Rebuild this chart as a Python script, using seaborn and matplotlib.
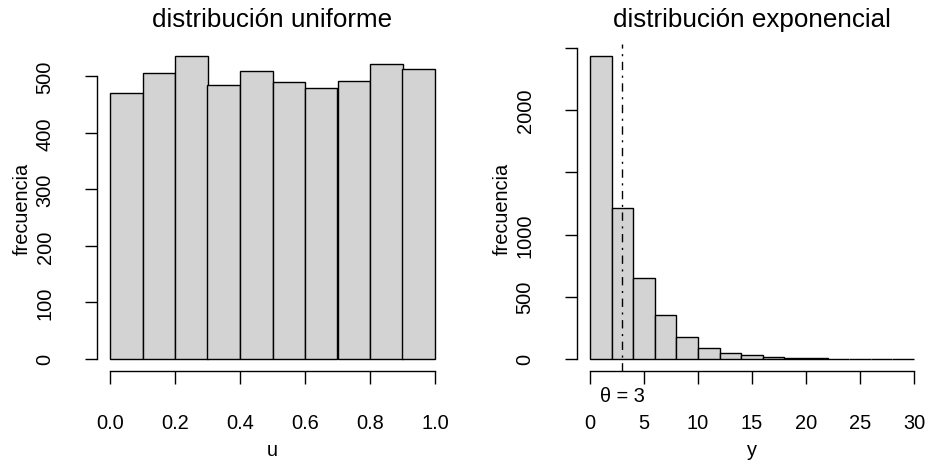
import numpy as np
import pandas as pd
import seaborn as sns
import matplotlib
matplotlib.use("Agg")
import matplotlib.pyplot as plt
import matplotlib.transforms as mtransforms

# values
u_edges = [0.0, 0.1, 0.2, 0.3, 0.4, 0.5, 0.6, 0.7, 0.8, 0.9, 1.0]
u_counts = [471, 506, 535, 485, 509, 489, 479, 492, 521, 513]

y_edges = [0, 2, 4, 6, 8, 10, 12, 14, 16, 18, 20, 22, 24, 26, 28, 30]
y_counts = [2432, 1215, 654, 356, 175, 86, 46, 30, 18, 9, 5, 3, 2, 0, 1]

theta = 3

u_xticks = [0.0, 0.2, 0.4, 0.6, 0.8, 1.0]
u_xlabels = ["0.0", "0.2", "0.4", "0.6", "0.8", "1.0"]
u_yticks = [0, 100, 200, 300, 400, 500]
y_xticks = [0, 5, 10, 15, 20, 25, 30]
y_yticks = [0, 500, 1000, 1500, 2000, 2500]
y_ylabels = ["0", "500", "1000", "", "2000", ""]

sns.set_style("ticks", {"axes.edgecolor": "black", "text.color": "black",
                        "xtick.color": "black", "ytick.color": "black",
                        "axes.labelcolor": "black"})
plt.rcParams["font.family"] = ["Liberation Sans", "DejaVu Sans"]

W, H = 930, 464
fig = plt.figure(figsize=(W / 100, H / 100), dpi=100)
top, bottom = 45.4, 372.0
axh = bottom - top
ax1 = fig.add_axes([97 / W, 1 - bottom / H, 351 / W, axh / H])
ax2 = fig.add_axes([577 / W, 1 - bottom / H, 350 / W, axh / H])


def draw_hist(ax, edges, counts, title, xlabel, xticks, xlabels, yticks, ylabels):
    mids = [(a + b) / 2 for a, b in zip(edges[:-1], edges[1:])]
    df = pd.DataFrame({"mid": mids, "n": counts})
    sns.histplot(data=df, x="mid", weights="n", bins=list(edges), ax=ax,
                 color="#D3D3D3", edgecolor="black", linewidth=1, alpha=1)
    # R style 4% padding around the data
    xr = edges[-1] - edges[0]
    ax.set_xlim(edges[0] - 0.04 * xr, edges[-1] + 0.04 * xr)
    ym = max(counts)
    ax.set_ylim(-0.04 * ym, 1.04 * ym)

    ax.set_xticks(xticks)
    ax.set_xticklabels(xlabels)
    ax.set_yticks(yticks)
    ax.set_yticklabels(ylabels)
    ax.tick_params(axis="both", direction="out", length=9, width=1,
                   labelsize=14.4, pad=21.5)
    ax.tick_params(axis="y", labelrotation=90)
    plt.setp(ax.get_yticklabels(), va="center")

    for s in ["top", "right"]:
        ax.spines[s].set_visible(False)
    ax.spines["left"].set_bounds(yticks[0], yticks[-1])
    ax.spines["bottom"].set_bounds(xticks[0], xticks[-1])
    ax.spines["left"].set_linewidth(1)
    ax.spines["bottom"].set_linewidth(1)

    ax.set_title(title, fontsize=18.7, y=1 + 18.4 / axh, pad=0)
    ax.set_xlabel(xlabel, fontsize=14.4)
    ax.xaxis.label.set_va("baseline")
    ax.xaxis.set_label_coords(0.5, -84 / axh)
    ax.set_ylabel("frecuencia", fontsize=14.4)
    ax.yaxis.label.set_va("baseline")
    ax.yaxis.set_label_coords(-69 / 350, 0.5)


draw_hist(ax1, u_edges, u_counts, "distribución uniforme", "u",
          u_xticks, u_xlabels, u_yticks, [str(v) for v in u_yticks])
draw_hist(ax2, y_edges, y_counts, "distribución exponencial", "y",
          y_xticks, [str(v) for v in y_xticks], y_yticks, y_ylabels)

# theta marker
ax2.axvline(theta, color="black", linewidth=1, linestyle=(0, (6, 4, 1.5, 4)))
trans = mtransforms.blended_transform_factory(ax2.transData, ax2.transAxes)
ax2.text(theta, -(397 - bottom) / axh, "θ = 3", transform=trans,
         ha="center", va="center", fontsize=14.4)

fig.savefig("out.png", dpi=100)
